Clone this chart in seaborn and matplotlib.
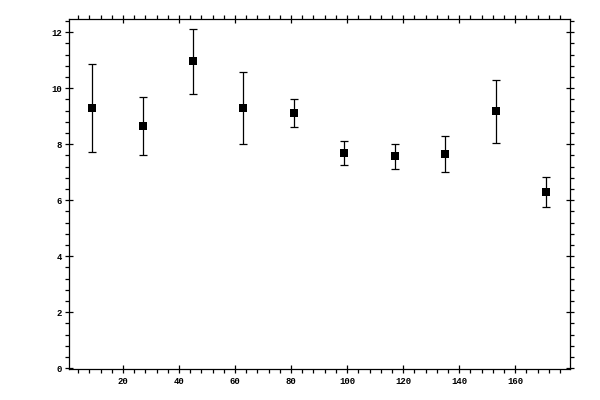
import matplotlib
matplotlib.use("Agg")
import matplotlib.pyplot as plt
import seaborn as sns
import pandas as pd
from matplotlib.ticker import MultipleLocator

x_values = [9, 27, 45, 63, 81, 99, 117, 135, 153, 171]
y_values = [9.29, 8.64, 10.96, 9.29, 9.11, 7.68, 7.57, 7.64, 9.18, 6.29]
y_errors = [1.56, 1.04, 1.16, 1.28, 0.49, 0.43, 0.45, 0.65, 1.12, 0.54]
x_ticks = [20, 40, 60, 80, 100, 120, 140, 160]
y_ticks = [0, 2, 4, 6, 8, 10, 12]

df = pd.DataFrame({"x": x_values, "y": y_values, "err": y_errors})

sns.set_theme(style="white")
plt.rcParams["font.family"] = ["Liberation Mono", "DejaVu Sans Mono"]

fig = plt.figure(figsize=(6, 4), dpi=100)
ax = fig.add_axes([0.1155, 0.07675, 0.835, 0.875])

ax.errorbar(df["x"], df["y"], yerr=df["err"], fmt="none", ecolor="black",
            elinewidth=0.9, capsize=3.2, capthick=0.9, zorder=2)
sns.scatterplot(data=df, x="x", y="y", marker="s", s=26, color="black",
                edgecolor="black", linewidth=0, ax=ax, zorder=3, legend=False)

ax.set_xlim(0.8, 179.7)
ax.set_ylim(-0.04, 12.46)
ax.set_xticks(x_ticks)
ax.set_yticks(y_ticks)
ax.set_xticklabels([str(t) for t in x_ticks])
ax.set_yticklabels([str(t) for t in y_ticks])
ax.xaxis.set_minor_locator(MultipleLocator(4))
ax.yaxis.set_minor_locator(MultipleLocator(0.4))
ax.set_xlabel("")
ax.set_ylabel("")

for s in ax.spines.values():
    s.set_visible(True)
    s.set_color("black")
    s.set_linewidth(0.9)

ax.tick_params(which="major", direction="inout", length=5.8, width=0.9,
               color="black", labelsize=6.5, labelcolor="black",
               top=True, right=True, bottom=True, left=True,
               labeltop=False, labelright=False, pad=2.5)
ax.tick_params(which="minor", direction="out", length=2.9, width=0.9,
               color="black", top=True, right=True, bottom=True, left=True)
for lab in ax.get_xticklabels() + ax.get_yticklabels():
    lab.set_fontweight("bold")
ax.grid(False)

fig.savefig("out.png", dpi=100)
